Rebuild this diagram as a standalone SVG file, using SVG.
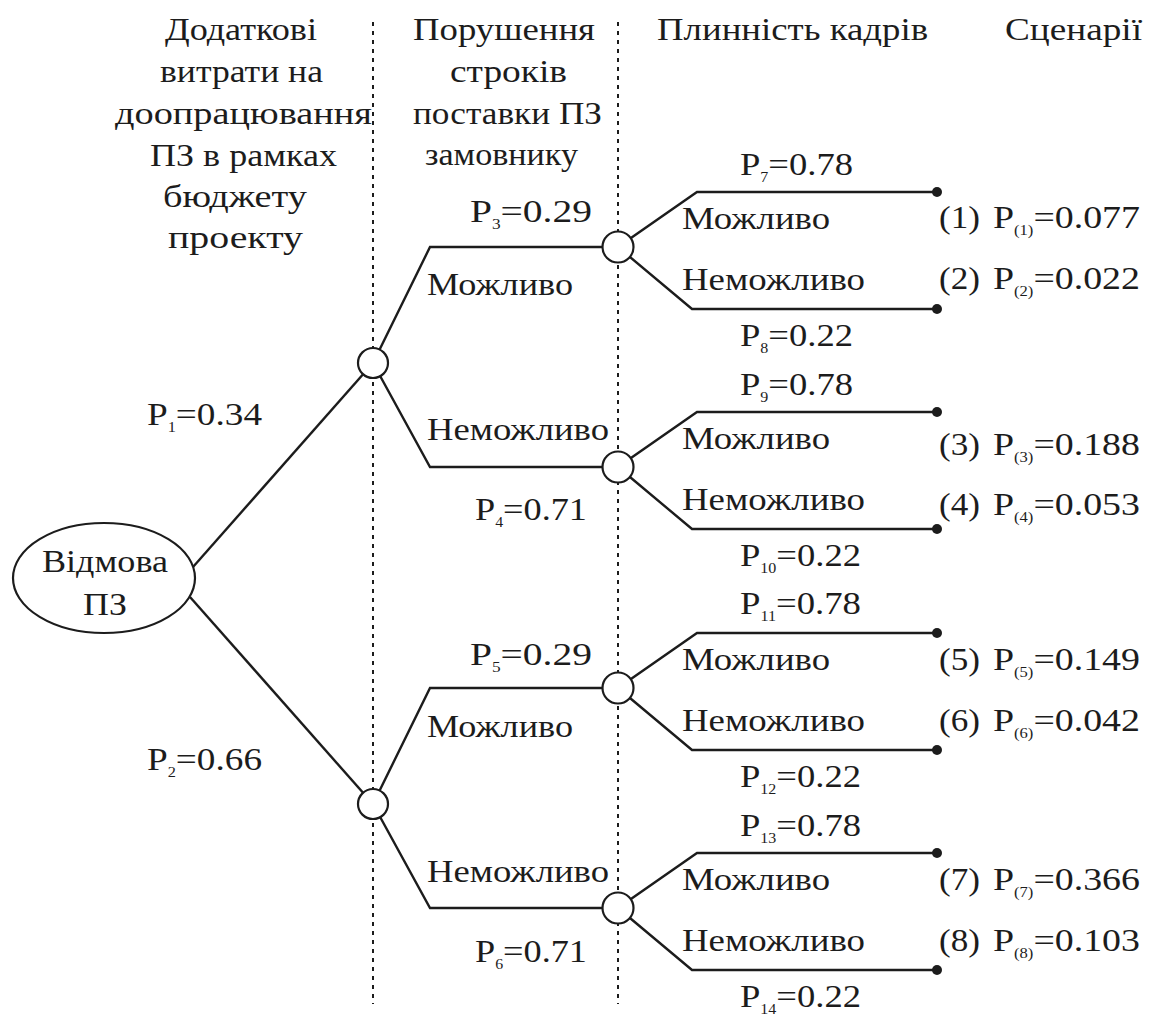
<svg xmlns="http://www.w3.org/2000/svg" width="1153" height="1022" viewBox="0 0 1153 1022">
<style>
text{font-family:'Liberation Serif','Times New Roman','DejaVu Serif',serif;font-size:32px;fill:#1c1c1c}
.s{font-size:14px}
.ln{stroke:#1c1c1c;stroke-width:2.4;fill:none;stroke-linejoin:miter}
.dv{stroke:#1c1c1c;stroke-width:2;stroke-dasharray:4 5;fill:none}
.nd{fill:#fff;stroke:#1c1c1c;stroke-width:2.2}
.end{fill:#1c1c1c}
</style>
<rect width="1153" height="1022" fill="#fff"/>
<g id="dividers">
<line class="dv" x1="373" y1="22" x2="373" y2="1004"/>
<line class="dv" x1="618" y1="22" x2="618" y2="1004"/>
</g>
<g id="headers">
<text x="165" y="40" textLength="152" lengthAdjust="spacingAndGlyphs">Додаткові</text>
<text x="160" y="82" textLength="163" lengthAdjust="spacingAndGlyphs">витрати на</text>
<text x="115" y="124" textLength="257" lengthAdjust="spacingAndGlyphs">доопрацювання</text>
<text x="150" y="166" textLength="187" lengthAdjust="spacingAndGlyphs">ПЗ в рамках</text>
<text x="163" y="207" textLength="144" lengthAdjust="spacingAndGlyphs">бюджету</text>
<text x="168" y="248" textLength="135" lengthAdjust="spacingAndGlyphs">проекту</text>
<text x="413" y="40" textLength="182" lengthAdjust="spacingAndGlyphs">Порушення</text>
<text x="450" y="82" textLength="117" lengthAdjust="spacingAndGlyphs">строків</text>
<text x="413" y="124" textLength="189" lengthAdjust="spacingAndGlyphs">поставки ПЗ</text>
<text x="425" y="165" textLength="153" lengthAdjust="spacingAndGlyphs">замовнику</text>
<text x="657" y="40" textLength="271" lengthAdjust="spacingAndGlyphs">Плинність кадрів</text>
<text x="1005" y="40" textLength="137" lengthAdjust="spacingAndGlyphs">Сценарії</text>
</g>
<g id="connectors">
<path class="ln" d="M193,567 L373,363"/>
<path class="ln" d="M190,597 L373,804"/>
<path class="ln" d="M373,363 L430,247 L618,247"/>
<path class="ln" d="M373,363 L430,467 L618,467"/>
<path class="ln" d="M373,804 L430,688 L618,688"/>
<path class="ln" d="M373,804 L430,908 L618,908"/>
<path class="ln" d="M618,247 L697,192 L937,192"/>
<path class="ln" d="M618,247 L692,309 L937,309"/>
<path class="ln" d="M618,467 L697,412 L937,412"/>
<path class="ln" d="M618,467 L692,529 L937,529"/>
<path class="ln" d="M618,688 L697,633 L937,633"/>
<path class="ln" d="M618,688 L692,750 L937,750"/>
<path class="ln" d="M618,908 L697,853 L937,853"/>
<path class="ln" d="M618,908 L692,970 L937,970"/>
</g>
<g id="root">
<ellipse class="nd" cx="104" cy="578" rx="91" ry="55"/>
<text x="42" y="572" textLength="126" lengthAdjust="spacingAndGlyphs">Відмова</text>
<text x="83" y="615" textLength="44" lengthAdjust="spacingAndGlyphs">ПЗ</text>
</g>
<g id="n1"><circle class="nd" cx="373" cy="363" r="15"/></g>
<g id="n2"><circle class="nd" cx="373" cy="804" r="15"/></g>
<g id="n3"><circle class="nd" cx="618" cy="247" r="15.5"/></g>
<g id="n4"><circle class="nd" cx="618" cy="467" r="15.5"/></g>
<g id="n5"><circle class="nd" cx="618" cy="688" r="15.5"/></g>
<g id="n6"><circle class="nd" cx="618" cy="908" r="15.5"/></g>
<g id="ends" class="end">
<circle id="e1" cx="937" cy="192" r="5"/>
<circle id="e2" cx="937" cy="309" r="5"/>
<circle id="e3" cx="937" cy="412" r="5"/>
<circle id="e4" cx="937" cy="529" r="5"/>
<circle id="e5" cx="937" cy="633" r="5"/>
<circle id="e6" cx="937" cy="750" r="5"/>
<circle id="e7" cx="937" cy="853" r="5"/>
<circle id="e8" cx="937" cy="970" r="5"/>
</g>
<g id="labels-level1">
<text x="147" y="425" textLength="115" lengthAdjust="spacingAndGlyphs">P<tspan class="s" dy="7">1</tspan><tspan dy="-7">=0.34</tspan></text>
<text x="147" y="770" textLength="115" lengthAdjust="spacingAndGlyphs">P<tspan class="s" dy="7">2</tspan><tspan dy="-7">=0.66</tspan></text>
</g>
<g id="labels-level2">
<text x="470" y="222" textLength="122" lengthAdjust="spacingAndGlyphs">P<tspan class="s" dy="7">3</tspan><tspan dy="-7">=0.29</tspan></text>
<text x="427" y="295" textLength="146" lengthAdjust="spacingAndGlyphs">Можливо</text>
<text x="427" y="440" textLength="182" lengthAdjust="spacingAndGlyphs">Неможливо</text>
<text x="475" y="520" textLength="112" lengthAdjust="spacingAndGlyphs">P<tspan class="s" dy="7">4</tspan><tspan dy="-7">=0.71</tspan></text>
<text x="470" y="665" textLength="122" lengthAdjust="spacingAndGlyphs">P<tspan class="s" dy="7">5</tspan><tspan dy="-7">=0.29</tspan></text>
<text x="427" y="737" textLength="146" lengthAdjust="spacingAndGlyphs">Можливо</text>
<text x="427" y="882" textLength="182" lengthAdjust="spacingAndGlyphs">Неможливо</text>
<text x="475" y="962" textLength="112" lengthAdjust="spacingAndGlyphs">P<tspan class="s" dy="7">6</tspan><tspan dy="-7">=0.71</tspan></text>
</g>
<g id="labels-level3">
<text x="740" y="175" textLength="113" lengthAdjust="spacingAndGlyphs">P<tspan class="s" dy="7">7</tspan><tspan dy="-7">=0.78</tspan></text>
<text x="682" y="229" textLength="148" lengthAdjust="spacingAndGlyphs">Можливо</text>
<text x="682" y="290" textLength="183" lengthAdjust="spacingAndGlyphs">Неможливо</text>
<text x="740" y="346" textLength="113" lengthAdjust="spacingAndGlyphs">P<tspan class="s" dy="7">8</tspan><tspan dy="-7">=0.22</tspan></text>
<text x="740" y="395" textLength="113" lengthAdjust="spacingAndGlyphs">P<tspan class="s" dy="7">9</tspan><tspan dy="-7">=0.78</tspan></text>
<text x="682" y="449" textLength="148" lengthAdjust="spacingAndGlyphs">Можливо</text>
<text x="682" y="510" textLength="183" lengthAdjust="spacingAndGlyphs">Неможливо</text>
<text x="740" y="566" textLength="121" lengthAdjust="spacingAndGlyphs">P<tspan class="s" dy="7">10</tspan><tspan dy="-7">=0.22</tspan></text>
<text x="740" y="614" textLength="121" lengthAdjust="spacingAndGlyphs">P<tspan class="s" dy="7">11</tspan><tspan dy="-7">=0.78</tspan></text>
<text x="682" y="670" textLength="148" lengthAdjust="spacingAndGlyphs">Можливо</text>
<text x="682" y="731" textLength="183" lengthAdjust="spacingAndGlyphs">Неможливо</text>
<text x="740" y="787" textLength="121" lengthAdjust="spacingAndGlyphs">P<tspan class="s" dy="7">12</tspan><tspan dy="-7">=0.22</tspan></text>
<text x="740" y="836" textLength="121" lengthAdjust="spacingAndGlyphs">P<tspan class="s" dy="7">13</tspan><tspan dy="-7">=0.78</tspan></text>
<text x="682" y="890" textLength="148" lengthAdjust="spacingAndGlyphs">Можливо</text>
<text x="682" y="951" textLength="183" lengthAdjust="spacingAndGlyphs">Неможливо</text>
<text x="740" y="1007" textLength="121" lengthAdjust="spacingAndGlyphs">P<tspan class="s" dy="7">14</tspan><tspan dy="-7">=0.22</tspan></text>
</g>
<g id="scenarios">
<text x="939" y="228" textLength="41" lengthAdjust="spacingAndGlyphs">(1)</text>
<text x="993" y="228" textLength="147" lengthAdjust="spacingAndGlyphs">P<tspan class="s" dy="7">(1)</tspan><tspan dy="-7">=0.077</tspan></text>
<text x="939" y="289" textLength="41" lengthAdjust="spacingAndGlyphs">(2)</text>
<text x="993" y="289" textLength="147" lengthAdjust="spacingAndGlyphs">P<tspan class="s" dy="7">(2)</tspan><tspan dy="-7">=0.022</tspan></text>
<text x="939" y="455" textLength="41" lengthAdjust="spacingAndGlyphs">(3)</text>
<text x="993" y="455" textLength="147" lengthAdjust="spacingAndGlyphs">P<tspan class="s" dy="7">(3)</tspan><tspan dy="-7">=0.188</tspan></text>
<text x="939" y="515" textLength="41" lengthAdjust="spacingAndGlyphs">(4)</text>
<text x="993" y="515" textLength="147" lengthAdjust="spacingAndGlyphs">P<tspan class="s" dy="7">(4)</tspan><tspan dy="-7">=0.053</tspan></text>
<text x="939" y="670" textLength="41" lengthAdjust="spacingAndGlyphs">(5)</text>
<text x="993" y="670" textLength="147" lengthAdjust="spacingAndGlyphs">P<tspan class="s" dy="7">(5)</tspan><tspan dy="-7">=0.149</tspan></text>
<text x="939" y="731" textLength="41" lengthAdjust="spacingAndGlyphs">(6)</text>
<text x="993" y="731" textLength="147" lengthAdjust="spacingAndGlyphs">P<tspan class="s" dy="7">(6)</tspan><tspan dy="-7">=0.042</tspan></text>
<text x="939" y="890" textLength="41" lengthAdjust="spacingAndGlyphs">(7)</text>
<text x="993" y="890" textLength="147" lengthAdjust="spacingAndGlyphs">P<tspan class="s" dy="7">(7)</tspan><tspan dy="-7">=0.366</tspan></text>
<text x="939" y="951" textLength="41" lengthAdjust="spacingAndGlyphs">(8)</text>
<text x="993" y="951" textLength="147" lengthAdjust="spacingAndGlyphs">P<tspan class="s" dy="7">(8)</tspan><tspan dy="-7">=0.103</tspan></text>
</g>
</svg>
